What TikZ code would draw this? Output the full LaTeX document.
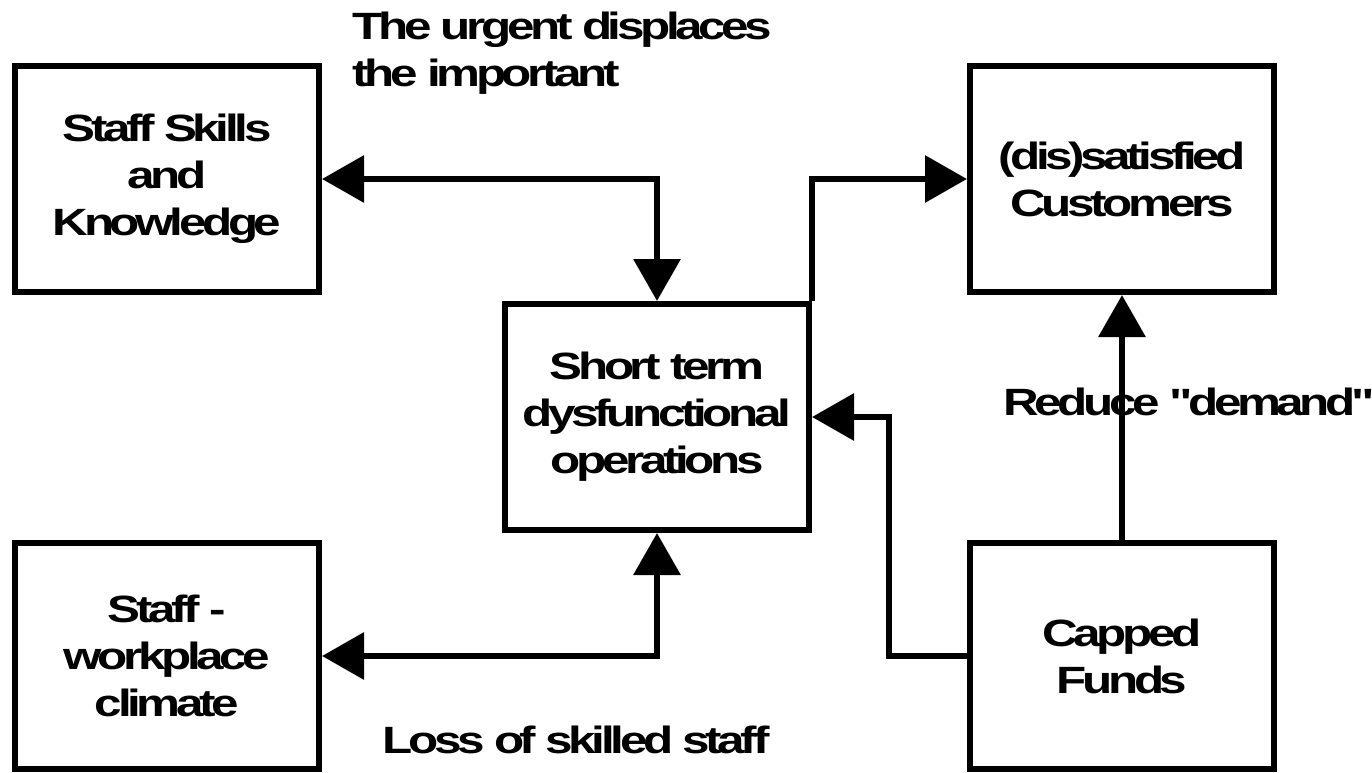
\documentclass[tikz,border=0pt]{standalone}
\usepackage{fontspec}
\setmainfont[FakeStretch=1.3,LetterSpace=-11.5,Ligatures=TeXOff]{Liberation Sans}
\usetikzlibrary{arrows.meta}

\begin{document}
\begin{tikzpicture}[x=0.5pt, y=-0.5pt,
    font=\fontsize{19pt}{23.5pt}\selectfont\bfseries,
    box/.style={draw, line width=3pt, minimum width=152pt, minimum height=113pt,
      align=center, inner sep=0pt},
    link/.style={line width=3.25pt},
    >={Triangle[length=21pt, width=23pt]}]
    \useasboundingbox (0, 0) rectangle (1372, 772);

    \node[box] (skills) at (167, 179) {Staff Skills\\and\\Knowledge};
    \node[box] (climate) at (167, 656) {Staff -\\workplace\\climate};
    \node[box] (ops) at (657, 417) {Short term\\dysfunctional\\operations};
    \node[box] (cust) at (1122, 179) {(dis)satisfied\\Customers};
    \node[box] (funds) at (1122, 656) {Capped\\Funds};

    \node[anchor=north west, inner sep=0pt, align=left] (urgent) at (352, 12)
      {The urgent displaces\\the important};
    \node[anchor=base, inner sep=0pt] (loss) at (576, 753) {Loss of skilled staff};
    \node[anchor=base west, inner sep=0pt] (demand) at (1003, 415)
      {Reduce "demand"};

    \draw[link, <->] (skills.east) -| (ops.north);
    \draw[link, <->] (climate.east) -| (ops.south);
    \draw[link, ->] (ops.north east) |- (cust.west);
    \draw[link, ->] (funds.west) -- +(-78, 0) |- (ops.east);
    \draw[link, ->] (funds.north) -- (cust.south);
  \end{tikzpicture}
\end{document}
